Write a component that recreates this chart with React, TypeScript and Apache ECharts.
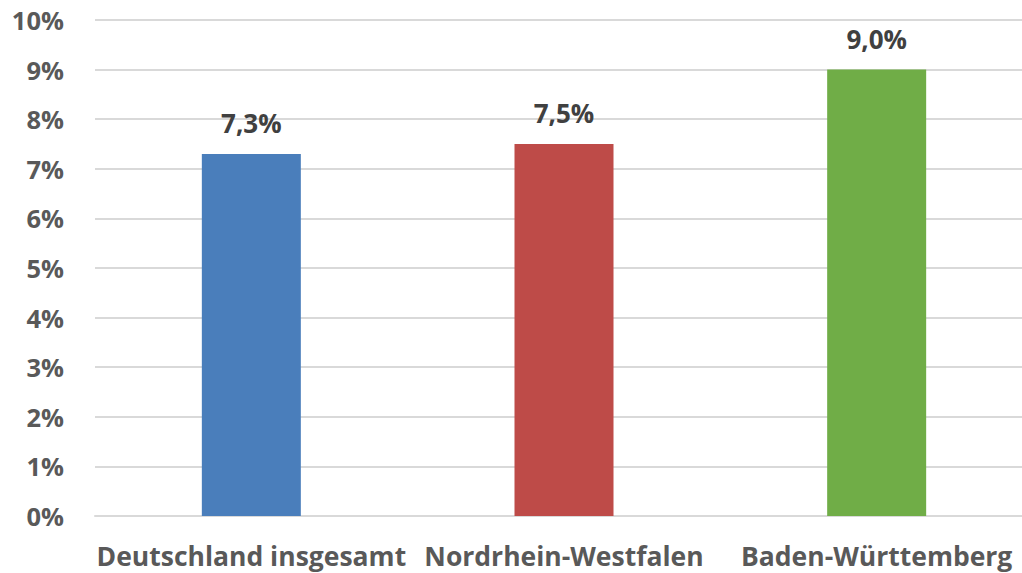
import React, { useEffect, useRef } from "react";
import * as echarts from "echarts";

const categories = ["Deutschland insgesamt", "Nordrhein-Westfalen", "Baden-Württemberg"];
const values = [7.3, 7.5, 9.0];
const barColors = ["#4A7EBB", "#BE4B48", "#70AD47"];
const yTicks = [0, 1, 2, 3, 4, 5, 6, 7, 8, 9, 10];

const FONT = "'Open Sans', 'Noto Sans', sans-serif";

export default function App() {
  const ref = useRef<HTMLDivElement>(null);

  useEffect(() => {
    if (!ref.current) return;
    const chart = echarts.init(ref.current, undefined, { renderer: "svg" });
    chart.setOption({
      animation: false,
      grid: { left: 95, right: 0, top: 20, bottom: 57, containLabel: false },
      xAxis: {
        type: "category",
        data: categories,
        axisTick: { show: false },
        axisLine: { lineStyle: { color: "#D9D9D9", width: 2 } },
        axisLabel: {
          color: "#595959",
          fontFamily: FONT,
          fontWeight: "bold",
          fontSize: 26.5,
          margin: 26,
          interval: 0,
        },
      },
      yAxis: {
        type: "value",
        min: yTicks[0],
        max: yTicks[yTicks.length - 1],
        interval: 1,
        axisLine: { show: false },
        axisTick: { show: false },
        splitLine: { lineStyle: { color: "#D9D9D9", width: 2 } },
        axisLabel: {
          color: "#595959",
          fontFamily: FONT,
          fontWeight: "bold",
          fontSize: 25.5,
          margin: 31,
          formatter: (v: number) => `${v}%`,
        },
      },
      series: [
        {
          type: "bar",
          barWidth: 99,
          data: values.map((v, i) => ({ value: v, itemStyle: { color: barColors[i] } })),
          label: {
            show: true,
            position: "top",
            distance: 18,
            color: "#404040",
            fontFamily: FONT,
            fontWeight: "bold",
            fontSize: 26,
            formatter: (p: any) => `${p.value.toFixed(1).replace(".", ",")}%`,
          },
        },
      ],
    });
    return () => chart.dispose();
  }, []);

  // The plot runs slightly past the right edge of the visible frame.
  return (
    <div
      style={{
        position: "absolute",
        left: 0,
        top: 0,
        width: 1022,
        height: 573,
        overflow: "hidden",
        background: "#fff",
      }}
    >
      <div ref={ref} style={{ width: 1033, height: 573 }} />
    </div>
  );
}
